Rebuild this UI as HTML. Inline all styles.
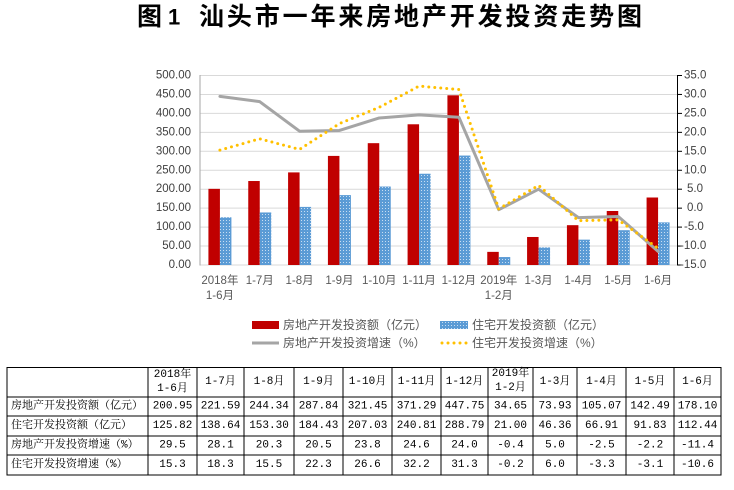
<!DOCTYPE html>
<html><head><meta charset="utf-8"><style>
html,body{margin:0;padding:0;background:#fff;}
svg{display:block;}
</style></head><body>
<svg width="734" height="490" viewBox="0 0 734 490" xmlns="http://www.w3.org/2000/svg">
<defs>
<pattern id="bp" width="3" height="3" patternUnits="userSpaceOnUse">
<rect width="3" height="3" fill="#5B9BD5"/>
<rect x="1" y="1" width="1" height="1" fill="#C9DEF2"/>
</pattern>
</defs>
<rect width="734" height="490" fill="#fff"/>

<!-- Title -->
<g font-family="'Liberation Sans','Noto Sans CJK SC',sans-serif" font-weight="bold" fill="#000" dominant-baseline="central">
<text x="137" y="17" font-size="25">图</text>
<text x="168" y="17" font-size="22">1</text>
<text x="199" y="17" font-size="25" textLength="443" lengthAdjust="spacing">汕头市一年来房地产开发投资走势图</text>
</g>

<!-- gridlines -->
<g stroke="#D9D9D9" stroke-width="1">
<line x1="200" x2="678" y1="75.5" y2="75.5"/>
<line x1="200" x2="678" y1="94.45" y2="94.45"/>
<line x1="200" x2="678" y1="113.4" y2="113.4"/>
<line x1="200" x2="678" y1="132.35" y2="132.35"/>
<line x1="200" x2="678" y1="151.3" y2="151.3"/>
<line x1="200" x2="678" y1="170.25" y2="170.25"/>
<line x1="200" x2="678" y1="189.2" y2="189.2"/>
<line x1="200" x2="678" y1="208.15" y2="208.15"/>
<line x1="200" x2="678" y1="227.1" y2="227.1"/>
<line x1="200" x2="678" y1="246.05" y2="246.05"/>
<line x1="200" x2="678" y1="265" y2="265"/>
</g>
<line x1="200" x2="200" y1="75" y2="265.5" stroke="#A6A6A6" stroke-width="1"/>

<!-- red bars -->
<g fill="#C00000">
<rect x="208.42" y="188.84" width="11.5" height="76.16"/>
<rect x="248.25" y="181.02" width="11.5" height="83.98"/>
<rect x="288.08" y="172.40" width="11.5" height="92.60"/>
<rect x="327.92" y="155.91" width="11.5" height="109.09"/>
<rect x="367.75" y="143.17" width="11.5" height="121.83"/>
<rect x="407.58" y="124.28" width="11.5" height="140.72"/>
<rect x="447.42" y="95.30" width="11.5" height="169.70"/>
<rect x="487.25" y="251.87" width="11.5" height="13.13"/>
<rect x="527.08" y="236.98" width="11.5" height="28.02"/>
<rect x="566.92" y="225.18" width="11.5" height="39.82"/>
<rect x="606.75" y="211.00" width="11.5" height="54.00"/>
<rect x="646.58" y="197.50" width="11.5" height="67.50"/>
</g>
<!-- blue bars -->
<g fill="url(#bp)">
<rect x="219.92" y="217.31" width="11.5" height="47.69"/>
<rect x="259.75" y="212.46" width="11.5" height="52.54"/>
<rect x="299.58" y="206.90" width="11.5" height="58.10"/>
<rect x="339.42" y="195.10" width="11.5" height="69.90"/>
<rect x="379.25" y="186.54" width="11.5" height="78.46"/>
<rect x="419.08" y="173.73" width="11.5" height="91.27"/>
<rect x="458.92" y="155.55" width="11.5" height="109.45"/>
<rect x="498.75" y="257.04" width="11.5" height="7.96"/>
<rect x="538.58" y="247.43" width="11.5" height="17.57"/>
<rect x="578.42" y="239.64" width="11.5" height="25.36"/>
<rect x="618.25" y="230.20" width="11.5" height="34.80"/>
<rect x="658.08" y="222.39" width="11.5" height="42.61"/>
</g>

<!-- gray line -->
<polyline fill="none" stroke="#A5A5A5" stroke-width="3" stroke-linejoin="round" stroke-linecap="round"
points="219.92,96.34 259.75,101.65 299.58,131.21 339.42,130.45 379.25,117.95 419.08,114.92 458.92,117.19 498.75,209.67 538.58,189.2 578.42,217.62 618.25,216.49 658.08,251.36"/>
<!-- yellow dotted line -->
<polyline fill="none" stroke="#FFC000" stroke-width="3" stroke-dasharray="0 6" stroke-linecap="round" stroke-linejoin="round"
points="219.92,150.16 259.75,138.79 299.58,149.40 339.42,123.63 379.25,107.34 419.08,86.11 458.92,89.52 498.75,208.91 538.58,185.41 578.42,220.66 618.25,219.90 658.08,248.32"/>

<!-- right axis -->
<g stroke="#000" stroke-width="1">
<line x1="677.5" x2="677.5" y1="75" y2="265.5"/>
<line x1="677.5" x2="682" y1="75.5" y2="75.5"/>
<line x1="677.5" x2="682" y1="94.45" y2="94.45"/>
<line x1="677.5" x2="682" y1="113.4" y2="113.4"/>
<line x1="677.5" x2="682" y1="132.35" y2="132.35"/>
<line x1="677.5" x2="682" y1="151.3" y2="151.3"/>
<line x1="677.5" x2="682" y1="170.25" y2="170.25"/>
<line x1="677.5" x2="682" y1="189.2" y2="189.2"/>
<line x1="677.5" x2="682" y1="208.15" y2="208.15"/>
<line x1="677.5" x2="682" y1="227.1" y2="227.1"/>
<line x1="677.5" x2="682" y1="246.05" y2="246.05"/>
<line x1="677.5" x2="682" y1="265" y2="265"/>
</g>

<!-- left axis labels -->
<g font-family="'Liberation Sans',sans-serif" font-size="11.5" fill="#404040" text-anchor="end" dominant-baseline="central">
<text x="191" y="75.5">500.00</text>
<text x="191" y="94.45">450.00</text>
<text x="191" y="113.4">400.00</text>
<text x="191" y="132.35">350.00</text>
<text x="191" y="151.3">300.00</text>
<text x="191" y="170.25">250.00</text>
<text x="191" y="189.2">200.00</text>
<text x="191" y="208.15">150.00</text>
<text x="191" y="227.1">100.00</text>
<text x="191" y="246.05">50.00</text>
<text x="191" y="265">0.00</text>
</g>
<!-- right axis labels -->
<g font-family="'Liberation Sans',sans-serif" font-size="11.5" fill="#404040" dominant-baseline="central">
<text x="684" y="75.5">35.0</text>
<text x="684" y="94.45">30.0</text>
<text x="684" y="113.4">25.0</text>
<text x="684" y="132.35">20.0</text>
<text x="684" y="151.3">15.0</text>
<text x="684" y="170.25">10.0</text>
<text x="687" y="189.2">5.0</text>
<text x="687" y="208.15">0.0</text>
<text x="684" y="227.1">-5.0</text>
<text x="680" y="246.05">-10.0</text>
<text x="680" y="265">-15.0</text>
</g>

<!-- x labels -->
<g font-family="'Liberation Sans','Noto Sans CJK SC',sans-serif" font-size="11.5" fill="#595959" text-anchor="middle" dominant-baseline="central">
<text x="219.92" y="281">2018年</text>
<text x="219.92" y="296">1-6月</text>
<text x="259.75" y="281">1-7月</text>
<text x="299.58" y="281">1-8月</text>
<text x="339.42" y="281">1-9月</text>
<text x="379.25" y="281">1-10月</text>
<text x="419.08" y="281">1-11月</text>
<text x="458.92" y="281">1-12月</text>
<text x="498.75" y="281">2019年</text>
<text x="498.75" y="296">1-2月</text>
<text x="538.58" y="281">1-3月</text>
<text x="578.42" y="281">1-4月</text>
<text x="618.25" y="281">1-5月</text>
<text x="658.08" y="281">1-6月</text>
</g>

<!-- legend -->
<rect x="252" y="321" width="27" height="8" fill="#C00000"/>
<rect x="440" y="321" width="28" height="8" fill="url(#bp)"/>
<line x1="252" x2="279" y1="343" y2="343" stroke="#A5A5A5" stroke-width="3"/>
<line x1="442" x2="468" y1="343" y2="343" stroke="#FFC000" stroke-width="3" stroke-dasharray="0 6" stroke-linecap="round"/>
<g font-family="'Liberation Sans','Noto Sans CJK SC',sans-serif" font-size="12" fill="#595959" dominant-baseline="central">
<text x="283" y="325">房地产开发投资额（亿元）</text>
<text x="472" y="325">住宅开发投资额（亿元）</text>
<text x="283" y="343">房地产开发投资增速（%）</text>
<text x="472" y="343">住宅开发投资增速（%）</text>
</g>

<!-- table grid -->
<g stroke="#000" stroke-width="1" shape-rendering="crispEdges">
<line x1="7" x2="721" y1="367.5" y2="367.5"/>
<line x1="7" x2="721" y1="397" y2="397"/>
<line x1="7" x2="721" y1="416" y2="416"/>
<line x1="7" x2="721" y1="436" y2="436"/>
<line x1="7" x2="721" y1="455" y2="455"/>
<line x1="7" x2="721" y1="475" y2="475"/>
<line x1="7" x2="7" y1="367" y2="475.5"/>
<line x1="148" x2="148" y1="367" y2="475.5"/>
<line x1="197" x2="197" y1="367" y2="475.5"/>
<line x1="244" x2="244" y1="367" y2="475.5"/>
<line x1="294" x2="294" y1="367" y2="475.5"/>
<line x1="343" x2="343" y1="367" y2="475.5"/>
<line x1="392" x2="392" y1="367" y2="475.5"/>
<line x1="441" x2="441" y1="367" y2="475.5"/>
<line x1="488" x2="488" y1="367" y2="475.5"/>
<line x1="533" x2="533" y1="367" y2="475.5"/>
<line x1="577" x2="577" y1="367" y2="475.5"/>
<line x1="626" x2="626" y1="367" y2="475.5"/>
<line x1="674" x2="674" y1="367" y2="475.5"/>
<line x1="721" x2="721" y1="367" y2="475.5"/>
</g>

<!-- table text -->
<g font-family="'Liberation Mono','Noto Serif CJK SC',serif" font-size="11" fill="#000" dominant-baseline="central">
<text x="11" y="406.5">房地产开发投资额（亿元）</text>
<text x="11" y="426">住宅开发投资额（亿元）</text>
<text x="11" y="445.5">房地产开发投资增速（%）</text>
<text x="11" y="465">住宅开发投资增速（%）</text>
</g>
<g font-family="'Liberation Mono','Noto Serif CJK SC',serif" font-size="11" fill="#000" text-anchor="middle" dominant-baseline="central">
<text x="172.5" y="375">2018年</text>
<text x="172.5" y="389">1-6月</text>
<text x="220.5" y="382">1-7月</text>
<text x="269" y="382">1-8月</text>
<text x="318.5" y="382">1-9月</text>
<text x="367.5" y="382">1-10月</text>
<text x="416.5" y="382">1-11月</text>
<text x="464.5" y="382">1-12月</text>
<text x="510.5" y="374">2019年</text>
<text x="510.5" y="388">1-2月</text>
<text x="555" y="382">1-3月</text>
<text x="601.5" y="382">1-4月</text>
<text x="650" y="382">1-5月</text>
<text x="697.5" y="382">1-6月</text>

<text x="172.5" y="406.5">200.95</text>
<text x="220.5" y="406.5">221.59</text>
<text x="269" y="406.5">244.34</text>
<text x="318.5" y="406.5">287.84</text>
<text x="367.5" y="406.5">321.45</text>
<text x="416.5" y="406.5">371.29</text>
<text x="464.5" y="406.5">447.75</text>
<text x="510.5" y="406.5">34.65</text>
<text x="555" y="406.5">73.93</text>
<text x="601.5" y="406.5">105.07</text>
<text x="650" y="406.5">142.49</text>
<text x="697.5" y="406.5">178.10</text>

<text x="172.5" y="426">125.82</text>
<text x="220.5" y="426">138.64</text>
<text x="269" y="426">153.30</text>
<text x="318.5" y="426">184.43</text>
<text x="367.5" y="426">207.03</text>
<text x="416.5" y="426">240.81</text>
<text x="464.5" y="426">288.79</text>
<text x="510.5" y="426">21.00</text>
<text x="555" y="426">46.36</text>
<text x="601.5" y="426">66.91</text>
<text x="650" y="426">91.83</text>
<text x="697.5" y="426">112.44</text>

<text x="172.5" y="445.5">29.5</text>
<text x="220.5" y="445.5">28.1</text>
<text x="269" y="445.5">20.3</text>
<text x="318.5" y="445.5">20.5</text>
<text x="367.5" y="445.5">23.8</text>
<text x="416.5" y="445.5">24.6</text>
<text x="464.5" y="445.5">24.0</text>
<text x="510.5" y="445.5">-0.4</text>
<text x="555" y="445.5">5.0</text>
<text x="601.5" y="445.5">-2.5</text>
<text x="650" y="445.5">-2.2</text>
<text x="697.5" y="445.5">-11.4</text>

<text x="172.5" y="465">15.3</text>
<text x="220.5" y="465">18.3</text>
<text x="269" y="465">15.5</text>
<text x="318.5" y="465">22.3</text>
<text x="367.5" y="465">26.6</text>
<text x="416.5" y="465">32.2</text>
<text x="464.5" y="465">31.3</text>
<text x="510.5" y="465">-0.2</text>
<text x="555" y="465">6.0</text>
<text x="601.5" y="465">-3.3</text>
<text x="650" y="465">-3.1</text>
<text x="697.5" y="465">-10.6</text>
</g>
</svg>
</body></html>
